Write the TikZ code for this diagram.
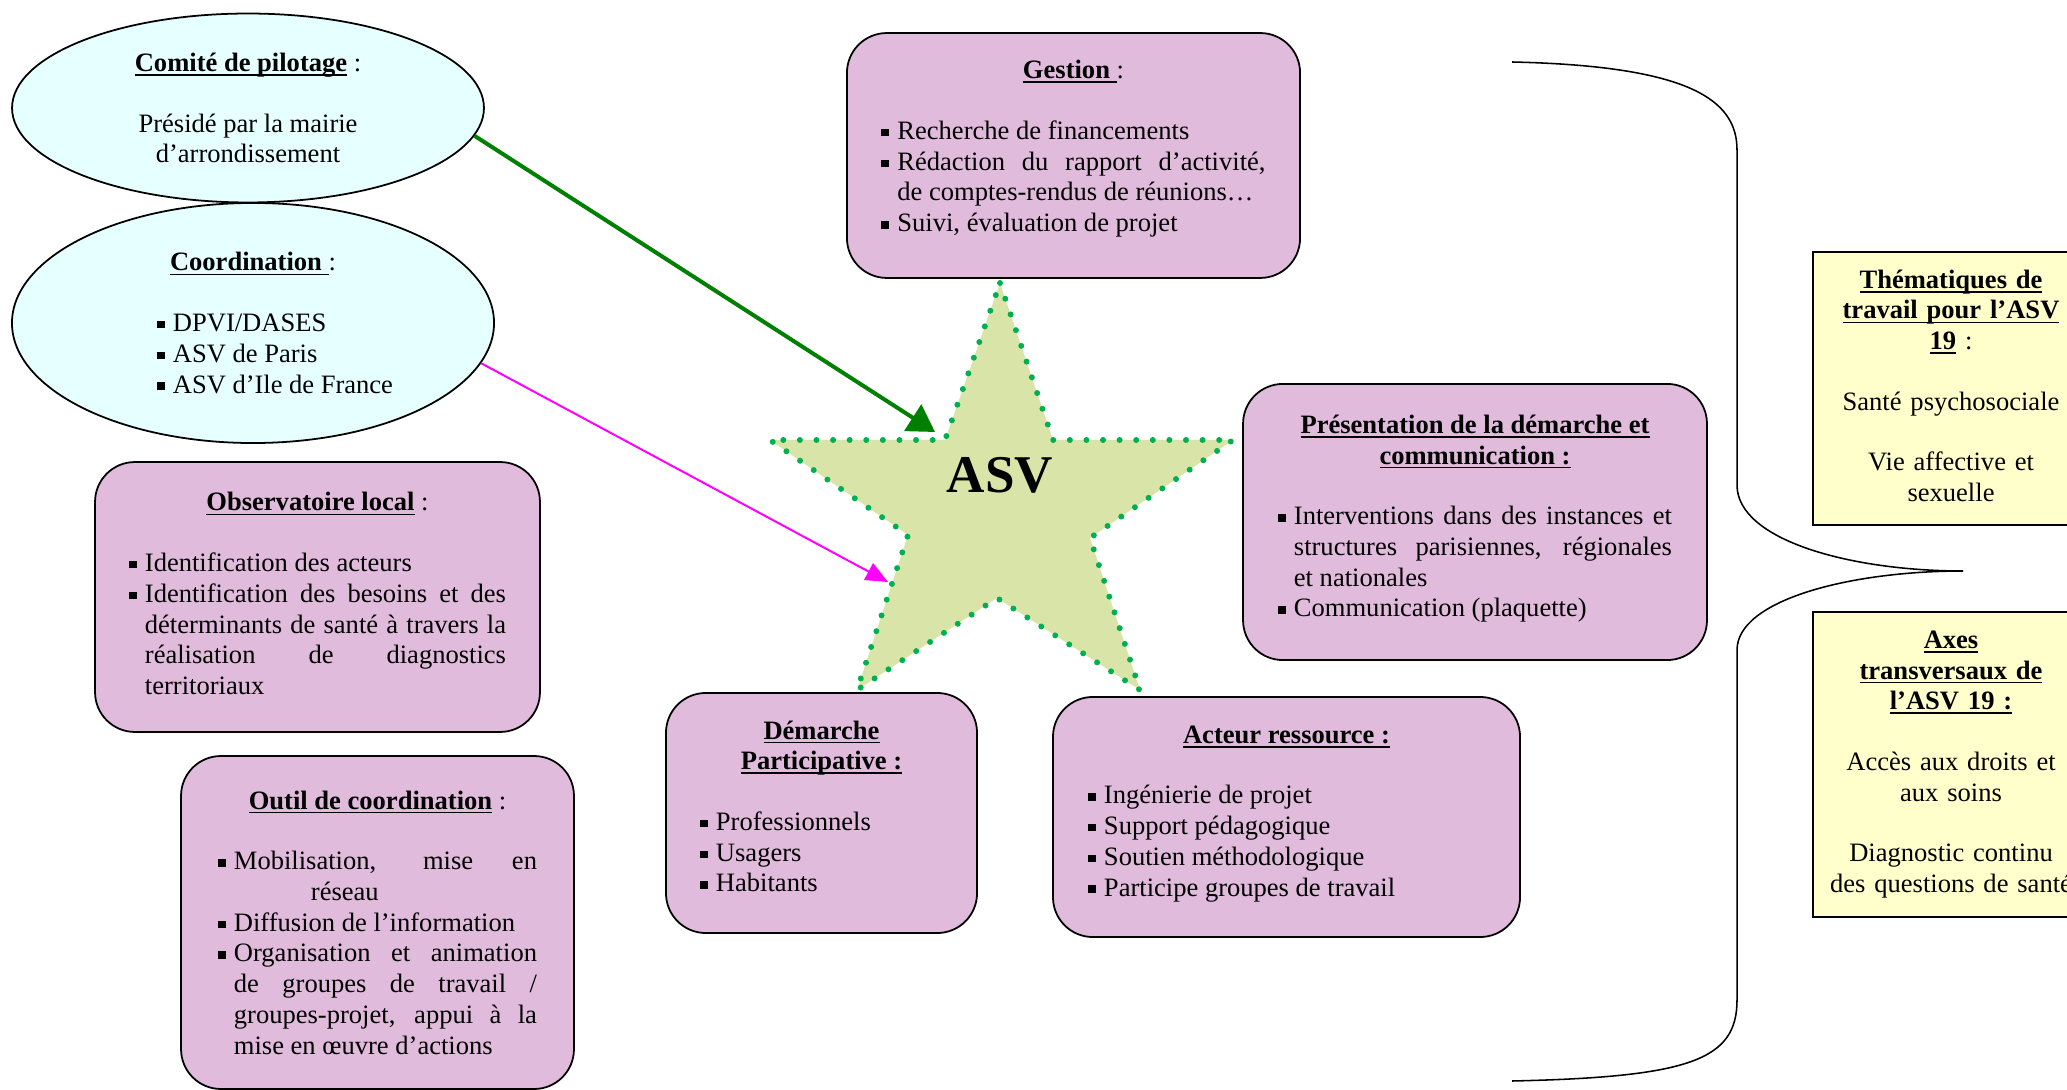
\documentclass[tikz,border=0pt]{standalone}
\usepackage{fontspec}
\setmainfont{Liberation Serif}
\usetikzlibrary{shapes,arrows.meta,positioning}
\definecolor{mauve}{RGB}{224,187,220}
\definecolor{ciel}{RGB}{230,255,255}
\definecolor{jaune}{RGB}{255,255,204}
\definecolor{olive}{RGB}{217,229,168}
\definecolor{pointille}{RGB}{0,176,80}
\definecolor{rose}{RGB}{255,0,255}
\definecolor{vert}{RGB}{0,128,0}
\newsavebox{\soulbox}
\newcommand{\souligne}[1]{\leavevmode\sbox{\soulbox}{#1}\rlap{\rule[-2pt]{\wd\soulbox}{0.8pt}}\usebox{\soulbox}}
\newcommand{\gras}[1]{\souligne{\textbf{#1}}}
\newcommand{\puce}{\makebox[7.2pt][l]{\rule[1.4pt]{3.4pt}{3.4pt}}}
\newcommand{\itm}{\par\noindent\hangindent=7.2pt\hangafter=1\puce}
\newcommand{\titre}[1]{{\centering #1\par}\vspace{13.5pt}}
\newcommand{\fin}[1][0pt]{\par\vskip#1\hrule height0pt}

\begin{document}
\begin{tikzpicture}[x=0.452pt,y=-0.452pt,font=\fontsize{12}{13.9}\selectfont,
    boite/.style={draw,line width=0.8pt,rounded corners=18pt,fill=mauve,align=justify,inner sep=0pt},
    bulle/.style={draw,ellipse,line width=0.8pt,fill=ciel,inner sep=0pt},
    cadre/.style={draw,line width=0.8pt,fill=jaune,align=center,inner sep=0pt,text width=112pt,
      minimum width=124.8pt}]
  \useasboundingbox (0,0) rectangle (2067,1090);
  % les deux instances
  \node[bulle,minimum width=213.3pt,minimum height=85.4pt,align=center] (pil) at (248,108)
    {\gras{Comité de pilotage} :\\[13.5pt]Présidé par la mairie\\d’arrondissement};
  \node[bulle,minimum width=217.9pt,minimum height=108.5pt,text width=126.6pt,align=justify] (coord) at (253,323)
    {\titre{\gras{Coordination }:}\leftskip=19.9pt
     \itm DPVI/DASES
     \itm ASV de Paris
     \itm ASV d’Ile de France\fin};
  % missions
  \node[boite,minimum width=204.8pt,minimum height=110.7pt,text width=173.6pt] (gest) at (1073.5,155.5)
    {\titre{\gras{Gestion }:}
     \itm Recherche de financements
     \itm Rédaction du rapport d’activité,\linebreak de comptes-rendus de réunions…
     \itm Suivi, évaluation de projet\fin[6pt]};
  \node[boite,minimum width=209.7pt,minimum height=124.8pt,text width=178.1pt] (pres) at (1475,522)
    {\titre{\gras{Présentation de la démarche et}\\\gras{communication :}}
     \itm Interventions dans des instances et\linebreak structures parisiennes, régionales\linebreak et nationales
     \itm Communication (plaquette)\fin[3pt]};
  \node[boite,minimum width=201.1pt,minimum height=122pt,text width=170.4pt] (obs) at (317.5,597)
    {\titre{\gras{Observatoire local} :}
     \itm Identification des acteurs
     \itm Identification des besoins et des\linebreak déterminants de santé à travers la\linebreak réalisation de diagnostics\linebreak territoriaux\fin[3pt]};
  \node[boite,minimum width=177.6pt,minimum height=150.5pt,text width=144.2pt] (outil) at (377.5,922.5)
    {\titre{\gras{Outil de coordination} :}
     \itm Mobilisation, mise en\linebreak\hspace*{34.8pt}réseau
     \itm Diffusion de l’information
     \itm Organisation et animation\linebreak de groupes de travail /\linebreak groupes-projet, appui à la\linebreak mise en œuvre d’actions\fin};
  \node[boite,minimum width=140.6pt,minimum height=108.5pt,text width=109.8pt] (dem) at (821.5,813)
    {\titre{\gras{Démarche}\\\gras{Participative :}}
     \itm Professionnels
     \itm Usagers
     \itm Habitants\fin[6pt]};
  \node[boite,minimum width=211.1pt,minimum height=108.5pt,text width=179.4pt] (act) at (1286.5,817)
    {\titre{\gras{Acteur ressource :}}
     \itm Ingénierie de projet
     \itm Support pédagogique
     \itm Soutien méthodologique
     \itm Participe groupes de travail\fin[3pt]};
  % l'ASV au centre
  \path (1000,283) coordinate (s1) (1053,440) coordinate (s2) (1233,440) coordinate (s3)
        (1090,538) coordinate (s4) (1140,690) coordinate (s5) (997,598) coordinate (s6)
        (857,690) coordinate (s7) (908,535) coordinate (s8) (770,440) coordinate (s9)
        (945,440) coordinate (s10);
  \fill[olive] (s1) -- (s2) -- (s3) -- (s4) -- (s5) -- (s6) -- (s7) -- (s8) -- (s9) -- (s10) -- cycle;
  \draw[pointille,line width=2.7pt,line cap=round,dash pattern=on 0pt off 7.5pt]
    (s1) -- (s2) -- (s3) -- (s4) -- (s5) -- (s6) -- (s7) -- (s8) -- (s9) -- (s10) -- cycle;
  \node[inner sep=0pt,font=\fontsize{24}{28}\selectfont\bfseries] (asv) at (1000,475) {ASV};
  \coordinate (cv) at (935,432);
  \coordinate (cm) at (888,582);
  \path[-{Triangle[length=12pt,width=14pt]},vert,line width=1.8pt] (pil.-7) edge (cv);
  \path[-{Triangle[length=10pt,width=8.5pt]},rose,line width=0.9pt] (coord.-10.5) edge (cm);
  % accolade et axes
  \draw[line width=0.7pt] (1512,62) .. controls (1690,66) and (1737,100) .. (1737,150) -- (1737,485)
    .. controls (1737,540) and (1850,571) .. (1963,571)
    .. controls (1850,571) and (1737,600) .. (1737,650) -- (1737,1000)
    .. controls (1737,1060) and (1690,1077) .. (1512,1081);
  \node[cadre,minimum height=123.4pt] (them) at (1951,388.5)
    {\gras{Thématiques de}\\\gras{travail pour l’ASV}\\\gras{19} :\\[13.5pt]
     Santé psychosociale\\[13.5pt]Vie affective et\\sexuelle\fin[2.4pt]};
  \node[cadre,minimum height=137.9pt] (axes) at (1951,764.5)
    {\gras{Axes}\\\gras{transversaux de}\\\gras{l’ASV 19 :}\\[13.5pt]
     Accès aux droits et\\aux soins\\[13.5pt]Diagnostic continu\\des questions de santé};
\end{tikzpicture}
\end{document}
